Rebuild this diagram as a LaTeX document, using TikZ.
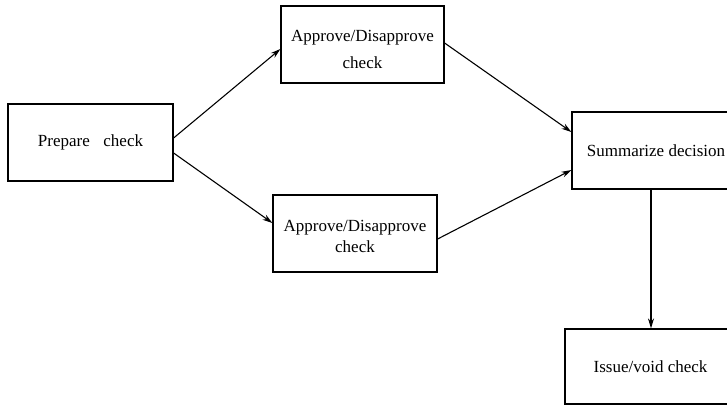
\documentclass[tikz,border=0pt]{standalone}
\usepackage{fontspec}
\setmainfont{Liberation Serif}
\usetikzlibrary{arrows.meta}
\begin{document}
\begin{tikzpicture}[x=1pt,y=-1pt,
  box/.style={draw,line width=1.2pt,rectangle,inner sep=0pt,align=center,
    font=\fontsize{17}{20}\selectfont},
  flow/.style={line width=1.1pt,-{Stealth[length=10pt,width=6pt]}}]
\clip (0,0) rectangle (727,405);
\fill[white] (0,0) rectangle (727,405);
% process boxes
\node[box,minimum width=165pt,minimum height=77pt] (prep) at (90.5,142.5) {Prepare\hspace{0.8em}check};
\node[box,minimum width=163pt,minimum height=77pt] (appA) at (362.5,44.5)
  {\rule{0pt}{22pt}Approve/Disapprove\\[7pt]check};
\node[box,minimum width=164pt,minimum height=77pt] (appB) at (355,233.5)
  {\rule{0pt}{18pt}Approve/Disapprove\\[1pt]check};
\node[box,minimum width=168pt,minimum height=77pt] (summ) at (656,150.5) {Summarize decision};
\node[box,minimum width=171pt,minimum height=75pt] (issue) at (650.5,366.5) {Issue/void check};
% connectors
\draw[flow] ([yshift=4.5pt]prep.east) -- ([yshift=-4.5pt]appA.west);
\draw[flow] ([yshift=-10.5pt]prep.east) -- ([yshift=10.5pt]appB.west);
\draw[flow] ([yshift=1.5pt]appA.east) -- ([yshift=18.5pt]summ.west);
\draw[flow] ([yshift=-5.5pt]appB.east) -- ([yshift=-19.5pt]summ.west);
\draw[flow] ([xshift=-5pt]summ.south) -- ([xshift=0.5pt]issue.north);
\end{tikzpicture}
\end{document}
